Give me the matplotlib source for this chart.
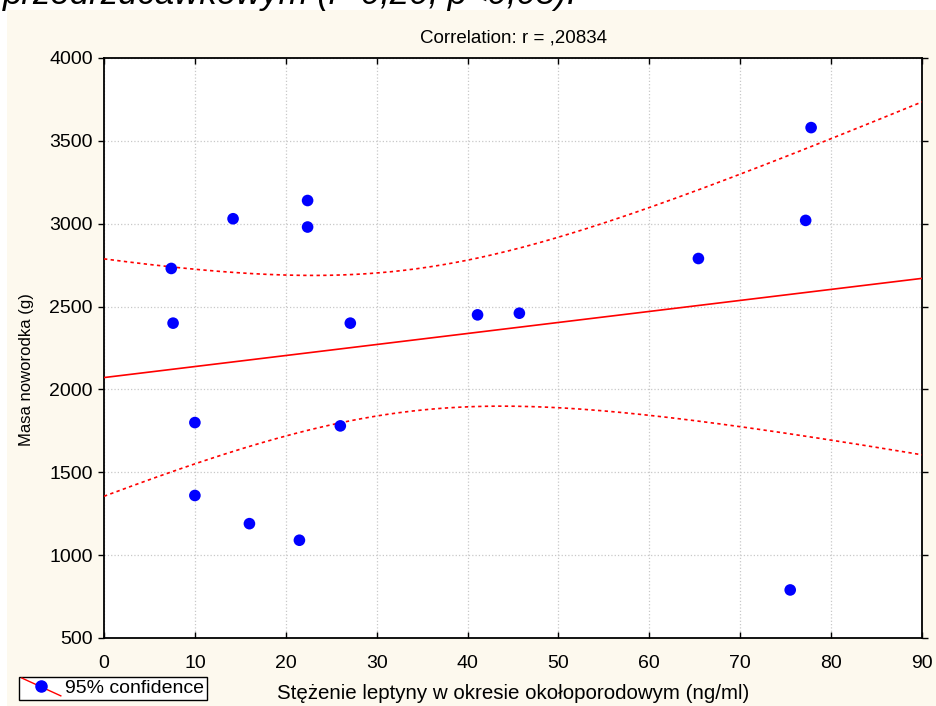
import numpy as np
import matplotlib
matplotlib.use('Agg')
import matplotlib.pyplot as plt
from matplotlib.lines import Line2D
from matplotlib.patches import Rectangle
from matplotlib.legend_handler import HandlerBase

plt.rcParams['font.family'] = ['Liberation Sans', 'DejaVu Sans']

# leptin concentration (ng/ml) vs newborn mass (g)
leptyna = [7.4, 7.6, 10.0, 10.0, 14.2, 16.0, 21.5, 22.4, 22.4, 26.0, 27.1,
           41.1, 45.7, 65.4, 77.2, 77.8, 75.5]
masa = [2730, 2400, 1800, 1360, 3030, 1190, 1090, 3140, 2980, 1780, 2400,
        2450, 2460, 2790, 3020, 3580, 790]
x_ticks = [0, 10, 20, 30, 40, 50, 60, 70, 80, 90]
y_ticks = [500, 1000, 1500, 2000, 2500, 3000, 3500, 4000]
t_crit = 2.131  # t(0.975, df=15)

x = np.array(leptyna)
y = np.array(masa)
n = len(x)
b, a = np.polyfit(x, y, 1)
resid = y - (a + b * x)
s = np.sqrt(np.sum(resid ** 2) / (n - 2))
sxx = np.sum((x - x.mean()) ** 2)
xs = np.linspace(0, 90, 200)
fit = a + b * xs
half = t_crit * s * np.sqrt(1.0 / n + (xs - x.mean()) ** 2 / sxx)


class DiagHandler(HandlerBase):
    def create_artists(self, legend, orig_handle, xdescent, ydescent,
                       width, height, fontsize, trans):
        ln = Line2D([0, width], [height + 1, -2], color='red', lw=1,
                    transform=trans)
        dot = Line2D([width / 2], [height / 2], marker='o', color='blue',
                     markersize=8, linestyle='none', transform=trans)
        return [ln, dot]


fig = plt.figure(figsize=(9.36, 7.06), dpi=100, facecolor='white')
fig.patches.append(Rectangle((7 / 936, 0), 1, (706 - 10) / 706,
                             transform=fig.transFigure, facecolor='#fdf9ee',
                             edgecolor='none', zorder=-5))
fig.text(0.003, 1 - 4 / 706, 'przedrzucawkowym (r=0,20; p<0,05).',
         fontsize=25, style='italic', va='baseline', ha='left')

ax = fig.add_axes([104 / 936, 68 / 706, 818 / 936, 580 / 706])
ax.set_facecolor('white')
ax.plot(xs, fit, color='red', lw=1.2, zorder=3)
ax.plot(xs, fit + half, color='red', lw=1.2, ls=(0, (2, 2)), zorder=3)
ax.plot(xs, fit - half, color='red', lw=1.2, ls=(0, (2, 2)), zorder=3)
ax.scatter(x, y, s=70, color='blue', zorder=4, edgecolors='none')

ax.set_xlim(0, 90)
ax.set_ylim(500, 4000)
ax.set_xticks(x_ticks)
ax.set_yticks(y_ticks)
ax.grid(True, color='#c8c8c8', ls=':', lw=0.9)
ax.set_axisbelow(True)
ax.tick_params(axis='both', labelsize=14, length=4, width=1)
ax.tick_params(axis='y', direction='out', right=True, pad=4)
ax.tick_params(axis='x', direction='in', top=True, pad=12)
for sp in ax.spines.values():
    sp.set_linewidth(1.3)

ax.set_title('Correlation: r = ,20834', fontsize=13.5, pad=11)
ax.set_xlabel('Stężenie leptyny w okresie okołoporodowym (ng/ml)',
              fontsize=14.8, labelpad=9)
ax.set_ylabel('Masa noworodka (g)', fontsize=12)
ax.yaxis.set_label_coords(-0.085, 0.462)

handle = Line2D([], [], color='red')
fig.legend([handle], ['95% confidence'], handler_map={Line2D: DiagHandler()},
           loc='lower left', bbox_to_anchor=(19 / 936, 6 / 706),
           fancybox=False, edgecolor='black', framealpha=1, fontsize=14,
           handlelength=2.0, handletextpad=0.2, borderpad=0.15,
           borderaxespad=0)

fig.savefig('out.png', dpi=100, facecolor=fig.get_facecolor())
